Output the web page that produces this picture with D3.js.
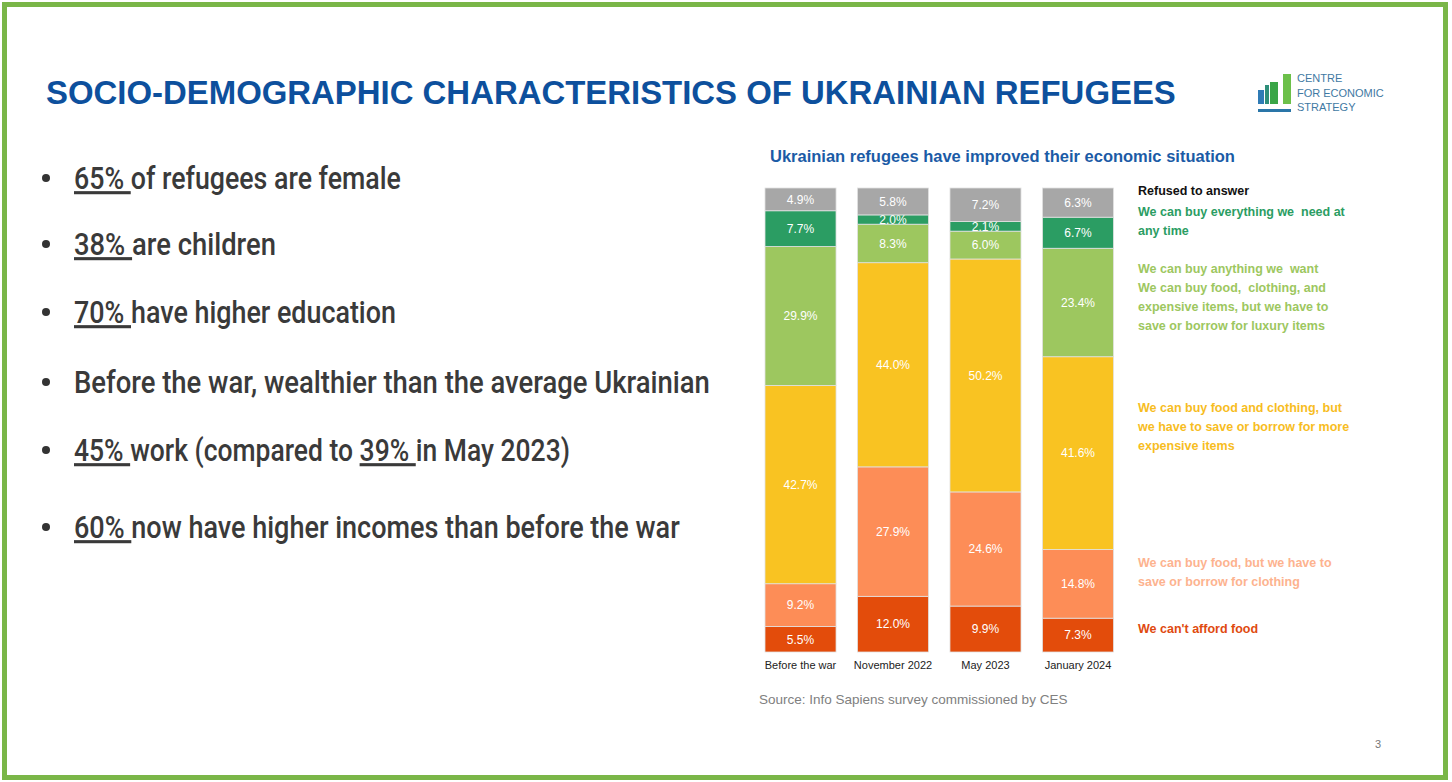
<!DOCTYPE html>
<html>
<head>
<meta charset="utf-8">
<script src="https://cdn.jsdelivr.net/npm/d3@7"></script>
<style>
  html, body { margin: 0; padding: 0; background: #fff; }
  svg { display: block; }
</style>
</head>
<body>
<svg id="slide" width="1452" height="782"></svg>
<script>
// values
var categories = ["Before the war", "November 2022", "May 2023", "January 2024"];
var cantAfford = [5.5, 12.0, 9.9, 7.3];
var foodOnly = [9.2, 27.9, 24.6, 14.8];
var foodClothing = [42.7, 44.0, 50.2, 41.6];
var anything = [29.9, 8.3, 6.0, 23.4];
var everything = [7.7, 2.0, 2.1, 6.7];
var refused = [4.9, 5.8, 7.2, 6.3];

var seriesKeys = ["cantAfford", "foodOnly", "foodClothing", "anything", "everything", "refused"];
var seriesValues = [cantAfford, foodOnly, foodClothing, anything, everything, refused];
var barColors = ["#e34c0b", "#fd8d57", "#f9c322", "#9dc75f", "#2b9d63", "#a7a7a7"];

var legendGroups = [
  { lines: ["Refused to answer"], color: "#111111" },
  { lines: ["We can buy everything we  need at", "any time"], color: "#2b9d63" },
  { lines: ["We can buy anything we  want", "We can buy food,  clothing, and", "expensive items, but we have to", "save or borrow for luxury items"], color: "#9dc75f" },
  { lines: ["We can buy food and clothing, but", "we have to save or borrow for more", "expensive items"], color: "#f7bd1f" },
  { lines: ["We can buy food, but we have to", "save or borrow for clothing"], color: "#fdb38f" },
  { lines: ["We can't afford food"], color: "#e04a10" }
];
var legendTop = [190, 211, 268, 407, 562, 628];

var bullets = [
  [{ t: "65% ", u: true }, { t: "of refugees are female" }],
  [{ t: "38% ", u: true }, { t: "are children" }],
  [{ t: "70% ", u: true }, { t: "have higher education" }],
  [{ t: "Before the war, wealthier than the average Ukrainian" }],
  [{ t: "45% ", u: true }, { t: "work (compared to " }, { t: "39% ", u: true }, { t: "in May 2023)" }],
  [{ t: "60% ", u: true }, { t: "now have higher incomes than before the war" }]
];
var bulletY = [178, 244, 312, 382, 450, 527];
var bulletWidth = [327, 202, 322, 636, 496, 606];

var svg = d3.select("#slide");
var sans = "'Liberation Sans', Arial, sans-serif";

// frame
svg.append("rect")
  .attr("x", 4.5).attr("y", 4.5)
  .attr("width", 1441).attr("height", 773)
  .attr("fill", "none")
  .attr("stroke", "#7ab648")
  .attr("stroke-width", 5);

// title, fitted to the slide width
var title = svg.append("text")
  .attr("x", 46).attr("y", 104)
  .attr("fill", "#0d509d")
  .style("font-family", sans)
  .style("font-weight", "700")
  .style("font-size", "30px")
  .text("SOCIO-DEMOGRAPHIC CHARACTERISTICS OF UKRAINIAN REFUGEES");
var tw = title.node().getComputedTextLength();
title.style("font-size", (30 * 1130 / tw) + "px");

// logo
var logo = svg.append("g");
logo.append("rect").attr("x", 1258).attr("y", 90).attr("width", 6).attr("height", 14).attr("fill", "#2f7bb5");
logo.append("rect").attr("x", 1265).attr("y", 85).attr("width", 4).attr("height", 19).attr("fill", "#2e8f7a");
logo.append("rect").attr("x", 1270).attr("y", 82).attr("width", 8).attr("height", 22).attr("fill", "#3aa547");
logo.append("rect").attr("x", 1283).attr("y", 74).attr("width", 8).attr("height", 30).attr("fill", "#6cc04a");
logo.append("rect").attr("x", 1258).attr("y", 109).attr("width", 33).attr("height", 3).attr("fill", "#2a76a8");
["CENTRE", "FOR ECONOMIC", "STRATEGY"].forEach(function(s, i) {
  logo.append("text")
    .attr("x", 1297).attr("y", 82 + i * 14.5)
    .attr("fill", "#3f79a3")
    .style("font-family", sans)
    .style("font-size", "11px")
    .text(s);
});

// bullets: no condensed font installed, so squeeze a regular one
// horizontally; each piece is its own text placed after the previous one
var bulletG = svg.append("g");
bullets.forEach(function(parts, i) {
  bulletG.append("circle")
    .attr("cx", 46).attr("cy", bulletY[i])
    .attr("r", 4)
    .attr("fill", "#333");
  var pieces = parts.map(function(p) {
    return bulletG.append("text")
      .attr("x", 0).attr("y", 0)
      .attr("fill", "#3a3a3a")
      .style("font-family", "Roboto, sans-serif")
      .style("font-weight", "500")
      .style("font-size", "31px")
      .style("white-space", "pre")
      .style("text-decoration", p.u ? "underline" : null)
      .text(p.t);
  });
  var widths = pieces.map(function(t) { return t.node().getComputedTextLength(); });
  var s = bulletWidth[i] / d3.sum(widths);
  var cx = 74;
  pieces.forEach(function(t, j) {
    t.attr("transform", "translate(" + cx + "," + (bulletY[i] + 11) + ") scale(" + s + ",1)");
    cx += widths[j] * s;
  });
});

// chart
svg.append("text")
  .attr("x", 770).attr("y", 162)
  .attr("fill", "#1b5ba6")
  .style("font-family", sans)
  .style("font-weight", "700")
  .style("font-size", "16.5px")
  .text("Ukrainian refugees have improved their economic situation");

var rows = categories.map(function(c, i) {
  var r = { category: c };
  seriesKeys.forEach(function(k, j) { r[k] = seriesValues[j][i]; });
  return r;
});

var stack = d3.stack().keys(seriesKeys).offset(d3.stackOffsetExpand);
var layers = stack(rows);

var x = d3.scaleBand()
  .domain(categories)
  .range([765, 1113.5])
  .paddingInner(0.232)
  .paddingOuter(0);

var y = d3.scaleLinear()
  .domain([0, 1])
  .range([652, 188]);

var color = d3.scaleOrdinal().domain(seriesKeys).range(barColors);

var layerG = svg.append("g").selectAll("g")
  .data(layers)
  .enter()
  .append("g")
  .attr("fill", function(d) { return color(d.key); });

layerG.selectAll("rect")
  .data(function(d) { return d; })
  .enter()
  .append("rect")
  .attr("x", function(d) { return x(d.data.category); })
  .attr("y", function(d) { return y(d[1]); })
  .attr("width", x.bandwidth())
  .attr("height", function(d) { return y(d[0]) - y(d[1]); })
  .attr("stroke", "#e2e2e2")
  .attr("stroke-width", 0.8);

layerG.selectAll("text")
  .data(function(d) { return d.map(function(p) { p.key = d.key; return p; }); })
  .enter()
  .append("text")
  .attr("x", function(d) { return x(d.data.category) + x.bandwidth() / 2; })
  .attr("y", function(d) { return (y(d[0]) + y(d[1])) / 2; })
  .attr("dy", "0.36em")
  .attr("text-anchor", "middle")
  .attr("fill", "#fff")
  .style("font-family", sans)
  .style("font-size", "12px")
  .text(function(d) { return d3.format(".1f")(d.data[d.key]) + "%"; });

var xAxis = svg.append("g")
  .attr("transform", "translate(0,652)")
  .call(d3.axisBottom(x).tickSize(0).tickPadding(9));
xAxis.select(".domain").remove();
xAxis.selectAll("text")
  .attr("fill", "#222")
  .style("font-family", sans)
  .style("font-size", "11px");

// legend
var legend = svg.append("g");
legendGroups.forEach(function(g, i) {
  g.lines.forEach(function(line, j) {
    legend.append("text")
      .attr("x", 1138)
      .attr("y", legendTop[i] + j * 19.3 + 4.5)
      .attr("fill", g.color)
      .style("font-family", sans)
      .style("font-weight", "700")
      .style("font-size", "12.5px")
      .style("white-space", "pre")
      .text(line);
  });
});

svg.append("text")
  .attr("x", 759).attr("y", 704)
  .attr("fill", "#808080")
  .style("font-family", sans)
  .style("font-size", "13.5px")
  .text("Source: Info Sapiens survey commissioned by CES");

svg.append("text")
  .attr("x", 1378).attr("y", 748)
  .attr("text-anchor", "middle")
  .attr("fill", "#777")
  .style("font-family", sans)
  .style("font-size", "11px")
  .text("3");
</script>
</body>
</html>
